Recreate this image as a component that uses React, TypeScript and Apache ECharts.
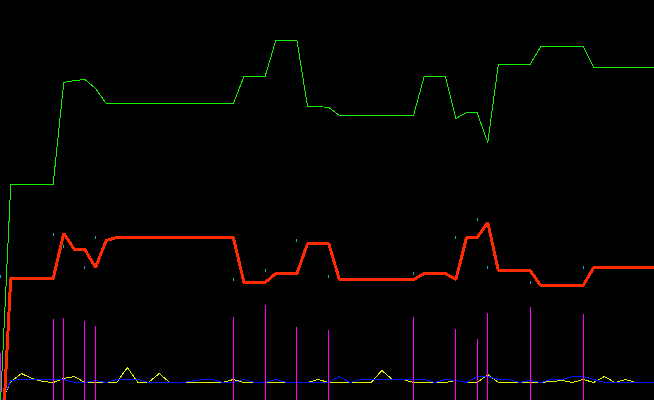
import React, { useEffect, useRef } from "react";
import * as echarts from "echarts";

// step index along the x axis (0 .. 62)
const steps: number[] = Array.from({ length: 63 }, (_, i) => i);

const greenSeries: number[] = [
  -10, 216, 216, 216, 216, 216, 318, 320, 321, 312,
  297, 297, 297, 297, 297, 297, 297, 297, 297, 297,
  297, 297, 297, 324, 324, 324, 360, 360, 360, 294,
  294, 293, 285, 285, 285, 285, 285, 285, 285, 285,
  324, 324, 324, 282, 288, 288, 258, 336, 336, 336,
  336, 354, 354, 354, 354, 354, 333, 333, 333, 333,
  333, 333, 333,
];

const redSeries: number[] = [
  -80, 122, 122, 122, 122, 122, 167, 151, 151, 133,
  160, 163, 163, 163, 163, 163, 163, 163, 163, 163,
  163, 163, 163, 118, 118, 118, 127, 127, 127, 157,
  157, 157, 121, 121, 121, 121, 121, 121, 121, 121,
  127, 127, 127, 121, 163, 163, 178, 130, 130, 130,
  130, 115, 115, 115, 115, 115, 133, 133, 133, 133,
  133, 133, 133,
];

const yellowSeries: number[] = [
  -4, 19, 27, 22, 19, 18, 22, 24, 18, 18,
  18, 18, 33, 18, 18, 27, 18, 18, 18, 18,
  18, 18, 21, 18, 18, 18, 18, 18, 18, 18,
  21, 18, 18, 18, 18, 18, 30, 21, 21, 18,
  18, 18, 18, 20, 18, 18, 26, 18, 18, 18,
  18, 18, 19, 20, 18, 21, 18, 24, 18, 21,
  18, 18, 18,
];

const blueSeries: number[] = [
  -4, 20, 21, 21, 21, 21, 21, 18, 18, 20,
  18, 21, 21, 21, 18, 18, 18, 18, 19, 21,
  21, 18, 18, 21, 18, 18, 21, 18, 18, 18,
  18, 18, 24, 18, 21, 21, 21, 21, 21, 21,
  21, 18, 21, 20, 18, 24, 24, 21, 21, 18,
  20, 18, 21, 21, 24, 24, 21, 18, 18, 18,
  18, 18, 18,
];

// event steps with their volume bars and marker dots
const eventSteps: number[] = [0, 5, 6, 8, 9, 22, 25, 28, 31, 39, 43, 45, 46, 50, 55];
const eventBars: number[] = [48, 82, 83, 80, 75, 84, 96, 74, 71, 84, 72, 62, 88, 94, 87];
const eventDots: number[] = [124, 166, 154, 133, 163, 121, 130, 160, 124, 127, 163, 181, 133, 118, 133];

const pair = (xs: number[], ys: number[]) => xs.map((x, i) => [x, ys[i]]);

export default function App() {
  const ref = useRef<HTMLDivElement>(null);

  useEffect(() => {
    document.body.style.margin = "0";
    document.body.style.background = "#000";
    const style = document.createElement("style");
    style.textContent = "#root svg path { shape-rendering: crispEdges; }";
    document.head.appendChild(style);

    const chart = echarts.init(ref.current!, null, { renderer: "svg" });
    const step = 10.6;
    const xMin = -0.15 / step;
    const xMax = xMin + 654 / step;
    const lineBase = {
      type: "line" as const,
      showSymbol: false,
      symbol: "none",
      clip: true,
    };
    chart.setOption({
      animation: false,
      backgroundColor: "#000000",
      grid: { left: 0, right: 0, top: 0, bottom: 0 },
      xAxis: {
        type: "value",
        min: xMin,
        max: xMax,
        show: false,
      },
      yAxis: {
        type: "value",
        min: 0.5,
        max: 400.5,
        show: false,
      },
      series: [
        {
          ...lineBase,
          name: "yellow",
          data: pair(steps, yellowSeries),
          lineStyle: { color: "#e0f000", width: 1 },
          z: 1,
        },
        {
          ...lineBase,
          name: "blue",
          data: pair(steps, blueSeries),
          lineStyle: { color: "#0018ff", width: 1 },
          z: 2,
        },
        {
          type: "bar",
          name: "events",
          data: pair(eventSteps, eventBars),
          barWidth: 1,
          itemStyle: { color: "#ff00ff" },
          z: 3,
        },
        {
          ...lineBase,
          name: "green",
          data: pair(steps, greenSeries),
          lineStyle: { color: "#11ee00", width: 1 },
          z: 4,
        },
        {
          ...lineBase,
          name: "red",
          data: pair(steps, redSeries),
          lineStyle: { color: "#ff2a00", width: 3 },
          z: 5,
        },
        {
          type: "scatter",
          name: "dots",
          data: pair(eventSteps, eventDots),
          symbol: "rect",
          symbolSize: [1, 3],
          itemStyle: { color: "#00e8ff" },
          z: 6,
        },
      ],
    });
    return () => {
      chart.dispose();
      style.remove();
    };
  }, []);

  return <div ref={ref} style={{ width: 654, height: 400 }} />;
}
